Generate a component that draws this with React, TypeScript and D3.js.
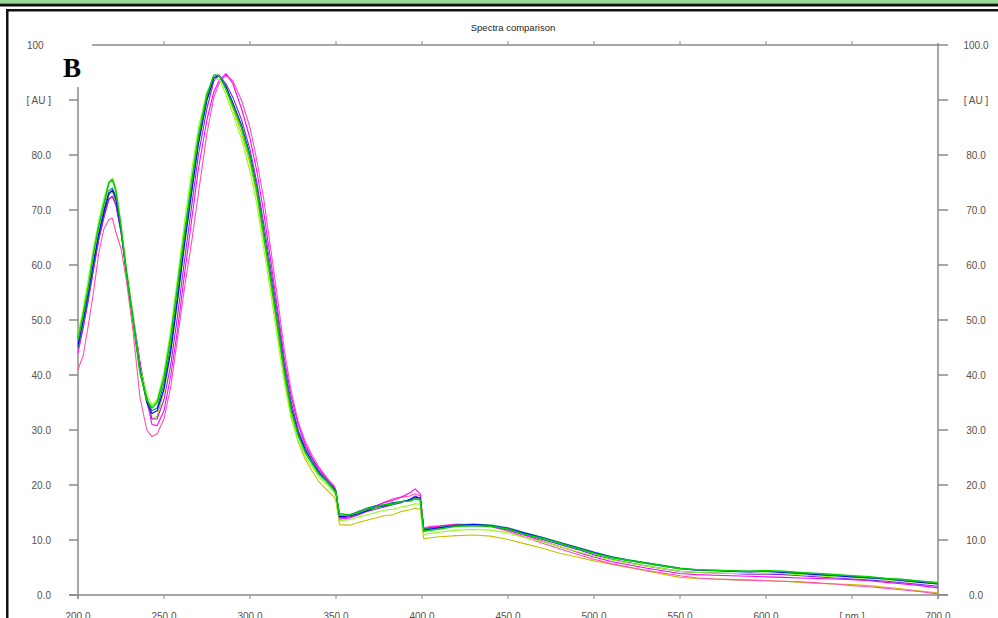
import * as d3 from "d3"

// wavelengths [nm] shared by every spectrum
const WL = [
  200, 203, 206, 209, 212, 215, 218, 220, 222,
  225, 228, 232, 236, 240, 243, 246,
  250, 254, 258, 262, 266, 270, 275, 279, 282,
  286, 290, 295, 300, 304, 308, 312, 316, 320, 324, 328, 332, 336, 340, 345, 349,
  350, 352, 358, 363, 368, 373, 378, 383, 388, 393, 396, 399,
  401, 405,
  410, 420, 430, 440, 450, 460, 470, 480, 490, 500,
  510, 520, 530, 540, 550, 560, 570, 580, 590, 600,
  610, 620, 630, 640, 650, 660, 670, 680, 690, 700,
]

const YELLOW = [
  44.5, 49, 54, 60, 65, 69.5, 72.8, 73.3, 71.5,
  66, 58.5, 49.5, 40.5, 35, 32, 32.5,
  37, 44, 53.5, 63.5, 73, 82, 90, 94, 94.5,
  92, 88.5, 84, 78.5, 72.5, 64.5, 56.5, 48, 39.5, 32.5, 27.8, 24.7, 22.6, 20.6, 19, 17.8,
  17, 12.8, 12.7, 13.2, 13.6, 14, 14.4, 14.6, 15.2, 15.5, 15.8, 15.6,
  10.2, 10.4,
  10.6, 10.8, 10.9, 10.7, 10.1, 9.3, 8.5, 7.6, 6.9, 6.2,
  5.6, 5, 4.4, 3.8, 3.2, 3, 2.9, 2.8, 2.7, 2.6,
  2.5, 2.3, 2.1, 2, 1.9, 1.7, 1.4, 1.1, 0.7, 0.4,
]

const PINK = [
  41, 43.5, 49, 55, 62, 66.5, 68.3, 68.5, 66,
  63, 57.5, 48, 36, 30, 28.8, 29.3,
  32, 38, 47, 56, 64, 73, 84, 90.5, 93,
  94.5, 93.5, 90, 85, 79, 72, 63, 54, 44.5, 37, 31.5, 28, 25.5, 23.3, 21.2, 19.8,
  19, 14.2, 14.4, 15.2, 15.6, 16.2, 16.8, 17.5, 17.8, 18, 18.4, 18,
  12.2, 12.5,
  12.6, 12.9, 12.8, 12.4, 11.6, 10.5, 9.4, 8.4, 7.4, 6.5,
  5.7, 5.1, 4.5, 4, 3.5, 3.1, 2.9, 2.8, 2.7, 2.6,
  2.5, 2.4, 2.2, 2, 1.7, 1.5, 1.2, 0.9, 0.6, 0.2,
]

const MAGENTA = [
  44, 48.5, 53.5, 59, 64.5, 69, 72, 72.5, 71,
  66, 59, 51, 42.5, 35.5, 31, 30.8,
  33.5, 40, 48.5, 58.5, 68, 77.5, 86.5, 91.5, 93.5,
  94.8, 93, 88.5, 83, 77, 69.5, 61, 52, 43, 36, 31, 27.5, 25, 23, 21, 19.6,
  18.8, 13.8, 14, 14.6, 15.4, 16.2, 16.8, 17.2, 17.8, 18.6, 19.3, 18.4,
  12, 12.3,
  12.5, 12.8, 12.8, 12.5, 11.8, 10.8, 9.8, 8.8, 7.8, 6.9,
  6.1, 5.5, 4.9, 4.4, 3.9, 3.7, 3.6, 3.5, 3.4, 3.3,
  3.2, 3.1, 3, 2.9, 2.8, 2.6, 2.3, 2, 1.7, 1.3,
]

const PURPLE = [
  45, 49, 54, 59.5, 64.5, 68.5, 72, 72.4, 71,
  66, 59, 50.5, 42, 36, 32, 32,
  35.5, 42, 51, 61, 70.5, 80, 88.5, 93.5, 94.5,
  93, 90.5, 86.5, 81, 75, 67.5, 59.5, 51, 42, 35, 30, 27, 24.8, 22.6, 20.8, 19.4,
  18.8, 14, 14.2, 14.6, 15.2, 15.6, 16, 16.4, 16.8, 17.4, 18, 17.6,
  11.8, 12,
  12.2, 12.6, 12.7, 12.5, 11.9, 11, 10.1, 9.2, 8.3, 7.3,
  6.5, 5.9, 5.3, 4.8, 4.3, 4.1, 4, 3.9, 3.8, 3.8,
  3.7, 3.5, 3.3, 3.1, 2.9, 2.7, 2.5, 2.2, 1.9, 1.6,
]

const LIME = [
  47.5, 52, 57.5, 63, 68, 72, 75.2, 75.8, 74,
  67.5, 60, 51, 41.5, 36.5, 34.5, 35.5,
  40.5, 48.5, 58, 68, 77, 85, 91.5, 93.8, 93.8,
  91, 87.5, 83, 77, 71, 63, 55, 46.5, 38.5, 32, 28, 25.3, 23.4, 21.5, 20, 18.6,
  18, 13.5, 13.7, 14.2, 14.6, 15, 15.4, 15.6, 16, 16.3, 16.6, 16.5,
  11, 11.2,
  11.4, 11.8, 11.9, 11.8, 11.3, 10.4, 9.7, 8.8, 7.9, 7.1,
  6.4, 5.8, 5.3, 4.8, 4.3, 4.1, 4, 3.9, 3.9, 4,
  3.9, 3.7, 3.5, 3.3, 3.2, 3, 2.8, 2.5, 2.3, 2,
]

const TEAL = [
  45, 49.5, 54.5, 60, 65.5, 70, 73.5, 74, 72.5,
  66.5, 59, 50, 41, 35.5, 33.5, 34,
  38.5, 45.5, 55, 65, 74, 82.5, 90.5, 94.5, 94.5,
  92.3, 89.3, 85.3, 79.8, 73.8, 65.8, 57.8, 49.3, 40.8, 33.8, 29.3, 26.3, 24.2, 22.2, 20.6, 19.2,
  18.6, 14.8, 14.6, 15.2, 15.8, 16.2, 16.4, 16.8, 17, 17.2, 17.5, 17.4,
  12, 12.2,
  12.3, 12.7, 12.9, 12.7, 12.2, 11.3, 10.5, 9.6, 8.7, 7.8,
  7, 6.4, 5.9, 5.4, 4.9, 4.6, 4.5, 4.4, 4.3, 4.4,
  4.2, 4, 3.8, 3.6, 3.4, 3.2, 3, 2.8, 2.5, 2.2,
]

const BLUE = [
  45.5, 50, 55, 60.5, 65.5, 69.5, 73, 73.6, 72,
  66.5, 59, 50, 41, 35, 33, 33.5,
  37.5, 44.5, 54, 64, 73, 82, 90, 94, 94.5,
  92.5, 89.5, 85.5, 80, 74, 66, 58, 49.5, 41, 34, 29.5, 26.5, 24.3, 22.3, 20.5, 19.2,
  18.6, 14.2, 14.4, 14.8, 15.3, 15.9, 16.2, 16.6, 16.9, 17.3, 17.8, 17.6,
  11.8, 12,
  12.2, 12.6, 12.8, 12.6, 12.1, 11.2, 10.4, 9.5, 8.6, 7.7,
  6.9, 6.3, 5.8, 5.3, 4.8, 4.5, 4.4, 4.3, 4.2, 4.3,
  4.1, 3.9, 3.7, 3.5, 3.3, 3.1, 2.9, 2.6, 2.3, 2,
]

const GREEN = [
  46.5, 51, 56, 62, 67, 71, 75, 75.5, 73.5,
  67, 59, 50, 40.5, 35.5, 34, 35,
  39.5, 47, 56.5, 66, 75, 83.5, 91, 94.5, 94.5,
  92, 89, 85, 79.5, 73.5, 65.5, 57.5, 49, 40.5, 33.5, 29, 26, 24, 22, 20.5, 19,
  18.5, 14.5, 14.6, 15, 15.6, 15.9, 16.4, 16.5, 17, 17.1, 17.5, 17.3,
  11.6, 11.8,
  12, 12.5, 12.6, 12.5, 12, 11, 10.3, 9.4, 8.5, 7.6,
  6.8, 6.3, 5.8, 5.3, 4.8, 4.6, 4.5, 4.4, 4.3, 4.4,
  4.3, 4.1, 3.9, 3.7, 3.5, 3.3, 3, 2.8, 2.5, 2.2,
]

const SERIES = [
  { name: "yellow", color: "#c8c000", values: YELLOW },
  { name: "pink", color: "#ff4fb0", values: PINK },
  { name: "magenta", color: "#ff00ff", values: MAGENTA },
  { name: "purple", color: "#8a2be2", values: PURPLE },
  { name: "lime", color: "#8cff1a", values: LIME },
  { name: "teal", color: "#108080", values: TEAL },
  { name: "blue", color: "#0000ff", values: BLUE },
  { name: "green", color: "#00d000", values: GREEN },
]

const X_TICKS = [200, 250, 300, 350, 400, 450, 500, 550, 600, 650, 700]
const X_LABELS = ["200.0", "250.0", "300.0", "350.0", "400.0", "450.0", "500.0", "550.0", "600.0", "[ nm ]", "700.0"]
const Y_TICKS = [0, 10, 20, 30, 40, 50, 60, 70, 80, 90]
const Y_LABELS = ["0.0", "10.0", "20.0", "30.0", "40.0", "50.0", "60.0", "70.0", "80.0", "[ AU ]"]

const W = 998
const H = 618

export default function App() {
  const x = d3.scaleLinear().domain([200, 700]).range([78, 938])
  const y = d3.scaleLinear().domain([0, 100]).range([595, 45])

  const line = d3
    .line<number>()
    .x((_, i) => x(WL[i]))
    .y((d) => y(d))

  const axisColor = "#8a8a8a"
  const labelColor = "#5b5048"
  const font = "'Liberation Sans', Arial, sans-serif"

  return (
    <svg
      width={W}
      height={H}
      style={{ position: "absolute", left: 0, top: 0, background: "#fff" }}
    >
      {/* frame of the cut-out */}
      <rect x={0} y={0} width={W} height={3} fill="#9ad89a" />
      <rect x={0} y={3.5} width={W} height={3} fill="#111" />
      <rect x={6} y={9} width={W - 6} height={2.5} fill="#111" />
      <rect x={6} y={9} width={2.5} height={H - 9} fill="#111" />

      <text x={513} y={31} textAnchor="middle" fontFamily={font} fontSize={9.5} fill="#222">
        Spectra comparison
      </text>

      {/* top border line with ticks */}
      <line x1={92} x2={948} y1={y(100)} y2={y(100)} stroke={axisColor} strokeWidth={1.5} />
      {X_TICKS.slice(1, -1).map((t) => (
        <line key={"tt" + t} x1={x(t)} x2={x(t)} y1={y(100) - 4} y2={y(100)} stroke={axisColor} strokeWidth={1} />
      ))}

      {/* bottom axis */}
      <line x1={69} x2={948} y1={y(0)} y2={y(0)} stroke={axisColor} strokeWidth={1.5} />
      {X_TICKS.map((t, i) => (
        <g key={"xt" + t}>
          <line x1={x(t)} x2={x(t)} y1={y(0)} y2={y(0) + 4} stroke={axisColor} strokeWidth={1} />
          <text x={x(t)} y={620} textAnchor="middle" fontFamily={font} fontSize={10} fill={labelColor}>
            {X_LABELS[i]}
          </text>
        </g>
      ))}

      {/* left axis */}
      <line x1={x(200)} x2={x(200)} y1={87} y2={y(0) + 4} stroke={axisColor} strokeWidth={1.5} />
      {/* right axis */}
      <line x1={x(700)} x2={x(700)} y1={y(100) - 2} y2={y(0) + 4} stroke={axisColor} strokeWidth={1.5} />

      {Y_TICKS.map((t, i) => (
        <g key={"yt" + t}>
          <line x1={69} x2={x(200)} y1={y(t)} y2={y(t)} stroke={axisColor} strokeWidth={1.5} />
          <line x1={x(700)} x2={948} y1={y(t)} y2={y(t)} stroke={axisColor} strokeWidth={1.5} />
          <text x={51} y={y(t) + 3.5} textAnchor="end" fontFamily={font} fontSize={10} fill={labelColor}>
            {Y_LABELS[i]}
          </text>
          <text x={976} y={y(t) + 3.5} textAnchor="middle" fontFamily={font} fontSize={10} fill={labelColor}>
            {Y_LABELS[i]}
          </text>
        </g>
      ))}
      <text x={27} y={y(100) + 3.5} fontFamily={font} fontSize={10} fill={labelColor}>
        100
      </text>
      <text x={976} y={y(100) + 3.5} textAnchor="middle" fontFamily={font} fontSize={10} fill={labelColor}>
        100.0
      </text>

      {/* spectra */}
      {SERIES.map((s) => (
        <path
          key={s.name}
          d={line(s.values) || ""}
          fill="none"
          stroke={s.color}
          strokeWidth={s.name === "green" ? 1.6 : 1.1}
          strokeLinejoin="round"
        />
      ))}

      <text x={63} y={77} fontFamily="'Liberation Serif', 'Times New Roman', serif" fontWeight="bold" fontSize={27} fill="#000">
        B
      </text>
    </svg>
  )
}
